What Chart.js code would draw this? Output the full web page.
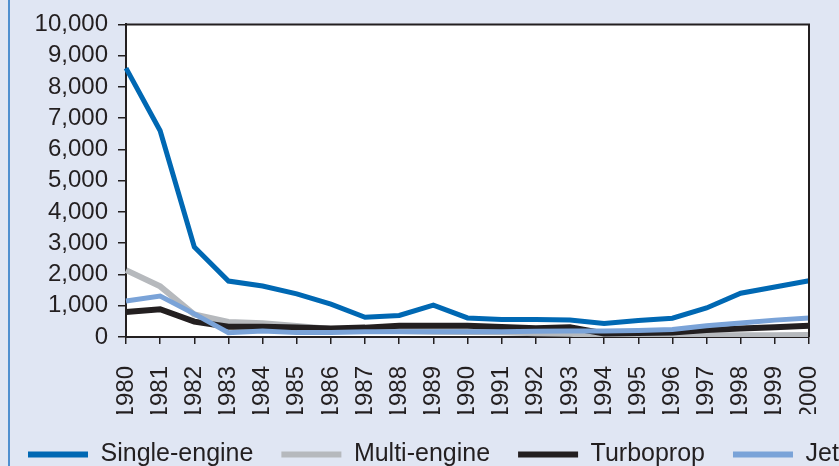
<!DOCTYPE html>
<html>
<head>
<meta charset="utf-8">
<script src="https://cdn.jsdelivr.net/npm/chart.js@4.4.1/dist/chart.umd.min.js"></script>
<style>
  html, body { margin: 0; padding: 0; background: #e0e6f3; overflow: hidden; }
  #page { position: relative; width: 839px; height: 466px; overflow: hidden; }
  #wrap { position: absolute; left: 0; top: 0; width: 900px; height: 466px; }
  #edge { position: absolute; left: 8px; top: 0; width: 2px; height: 466px; background: #4f8fcf; }
</style>
</head>
<body>
<div id="page">
  <div id="wrap">
    <canvas id="myChart"></canvas>
  </div>
  <div id="edge"></div>
</div>
<script>
const years = ['1980', '1981', '1982', '1983', '1984', '1985', '1986', '1987', '1988', '1989', '1990',
  '1991', '1992', '1993', '1994', '1995', '1996', '1997', '1998', '1999', '2000'];
const singleEngine = [8600, 6600, 2880, 1790, 1630, 1380, 1050, 630, 690, 1020, 610,
  560, 560, 540, 430, 530, 600, 930, 1400, 1600, 1800];
const multiEngine = [2140, 1620, 720, 480, 440, 350, 260, 210, 190, 170, 160,
  150, 120, 100, 60, 55, 55, 55, 55, 55, 60];
const turboprop = [800, 890, 490, 330, 330, 300, 270, 300, 360, 360, 360,
  320, 280, 310, 110, 130, 140, 220, 270, 310, 360];
const jet = [1150, 1310, 740, 140, 190, 140, 140, 170, 170, 170, 170,
  170, 180, 190, 190, 210, 240, 360, 450, 540, 610];

const inkColor = '#231f20';

// white plot area plus the top/right frame lines
const plotFrame = {
  id: 'plotFrame',
  beforeDraw: function (chart) {
    const a = chart.chartArea;
    const ctx = chart.ctx;
    ctx.save();
    ctx.fillStyle = '#ffffff';
    ctx.fillRect(a.left, a.top, a.right - a.left, a.bottom - a.top);
    ctx.restore();
  },
  afterDraw: function (chart) {
    const a = chart.chartArea;
    const ctx = chart.ctx;
    ctx.save();
    ctx.strokeStyle = inkColor;
    ctx.lineWidth = 2;
    ctx.beginPath();
    ctx.moveTo(a.left, a.top);
    ctx.lineTo(a.right, a.top);
    ctx.lineTo(a.right, a.bottom);
    ctx.stroke();
    ctx.restore();
  }
};

const ctx = document.getElementById('myChart').getContext('2d');
const chart = new Chart(ctx, {
  type: 'line',
  data: {
    labels: years,
    datasets: [{
      label: 'Single-engine',
      data: singleEngine,
      borderColor: '#0068b3',
      backgroundColor: '#0068b3',
      borderWidth: 5,
      order: 0
    }, {
      label: 'Multi-engine',
      data: multiEngine,
      borderColor: '#b6b9bd',
      backgroundColor: '#b6b9bd',
      borderWidth: 6,
      order: 3
    }, {
      label: 'Turboprop',
      data: turboprop,
      borderColor: inkColor,
      backgroundColor: inkColor,
      borderWidth: 6,
      order: 2
    }, {
      label: 'Jet',
      data: jet,
      borderColor: '#7aa3d8',
      backgroundColor: '#7aa3d8',
      borderWidth: 5,
      order: 1
    }]
  },
  options: {
    responsive: true,
    maintainAspectRatio: false,
    animation: false,
    elements: {
      point: { radius: 0, hoverRadius: 0 },
      line: { tension: 0, borderJoinStyle: 'miter', borderCapStyle: 'butt' }
    },
    layout: {
      padding: { left: 0, right: 0, top: 23, bottom: -11 }
    },
    scales: {
      x: {
        grid: { drawOnChartArea: false, drawTicks: true, tickLength: 7, color: inkColor, lineWidth: 1.5 },
        border: { color: inkColor, width: 2 },
        ticks: {
          color: inkColor,
          font: { family: 'Liberation Sans', size: 24 },
          minRotation: 90,
          maxRotation: 90,
          autoSkip: false,
          padding: 22
        },
        afterFit: function (scale) { scale.height = 77; }
      },
      y: {
        min: 0,
        max: 10000,
        grid: { drawOnChartArea: false, drawTicks: true, tickLength: 8, color: inkColor, lineWidth: 1.5 },
        border: { color: inkColor, width: 2 },
        ticks: {
          stepSize: 1000,
          autoSkip: false,
          color: inkColor,
          font: { family: 'Liberation Sans', size: 24 },
          padding: 10,
          callback: function (value) { return value.toLocaleString('en-US'); }
        },
        afterFit: function (scale) { scale.width = 126; }
      },
      // empty right-hand axis, keeps the plot's right edge at x=809
      spacer: {
        type: 'linear',
        position: 'right',
        min: 0,
        max: 1,
        grid: { display: false },
        border: { display: false },
        ticks: { display: false },
        afterFit: function (scale) { scale.width = 91; }
      }
    },
    plugins: {
      tooltip: { enabled: false },
      legend: {
        position: 'bottom',
        align: 'start',
        labels: {
          color: inkColor,
          font: { family: 'Liberation Sans', size: 25 },
          boxWidth: 60,
          boxHeight: 6,
          padding: 28,
          sort: function (a, b) { return a.datasetIndex - b.datasetIndex; },
          generateLabels: function (chart) {
            const items = Chart.defaults.plugins.legend.labels.generateLabels(chart);
            items.forEach(function (item) {
              item.lineWidth = 0;
              item.fillStyle = item.strokeStyle;
            });
            return items;
          }
        }
      }
    }
  },
  plugins: [plotFrame]
});
</script>
</body>
</html>
